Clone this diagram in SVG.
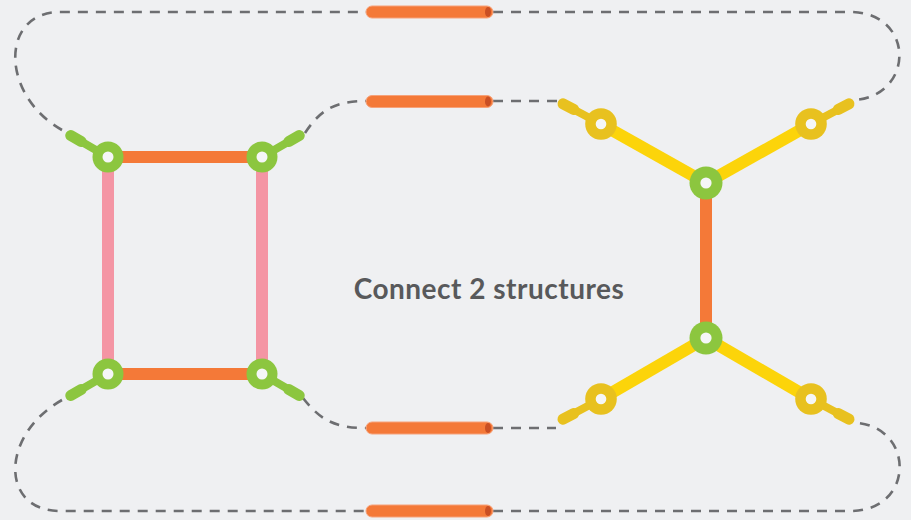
<svg xmlns="http://www.w3.org/2000/svg" xmlns:xlink="http://www.w3.org/1999/xlink" width="911" height="520" viewBox="0 0 911 520">
  <style>
    .dash { fill: none; stroke: #6d6e71; stroke-width: 2.6; stroke-dasharray: 10 8; }
    .orange { stroke: #f47938; stroke-width: 12; }
    .pink { stroke: #f495a4; stroke-width: 12; }
    .yellow { stroke: #fcd40a; stroke-width: 12; }
    .pipe { fill: #f47938; stroke: #f6a27a; stroke-width: 1; }
    .pipe-end { fill: #c94f24; }
    .green { fill: #8cc63f; }
    .gold { fill: #e8c11f; }
    .hole { fill: #f5f6f7; }
    .stub-green { stroke: #8cc63f; }
    .stub-gold { stroke: #e8c11f; }
    .label { font-family: Lato, "Open Sans", "Liberation Sans", sans-serif; font-weight: 700; font-size: 28px; letter-spacing: 0.5px; fill: #58595b; }
  </style>
  <defs>
    <g id="stub" fill="none" stroke-linecap="round">
      <line x1="0" y1="0" x2="32" y2="0" stroke-width="8"/>
      <line x1="31" y1="0" x2="43" y2="0" stroke-width="11"/>
    </g>
  </defs>
  <rect x="0" y="0" width="911" height="520" fill="#eff0f2"/>

  <g id="connectors">
    <path class="dash" d="M62,130 C0,95 0,12 60,12 H366"/>
    <path class="dash" d="M493,12 H850 C915,12 915,95 855,100"/>
    <path class="dash" d="M305,133 C320,110 335,101 366,101"/>
    <path class="dash" d="M493,101 H558"/>
    <path class="dash" d="M303,398 C320,420 335,428 366,428"/>
    <path class="dash" d="M493,428 H556"/>
    <path class="dash" d="M62,400 C0,435 0,511 60,511 H366"/>
    <path class="dash" d="M493,511 H850 C915,511 915,428 857,423"/>
    <line class="orange" x1="108" y1="157" x2="262" y2="157"/>
    <line class="orange" x1="108" y1="374" x2="262" y2="374"/>
    <line class="pink" x1="108" y1="157" x2="108" y2="374"/>
    <line class="pink" x1="262" y1="157" x2="262" y2="374"/>
    <line class="orange" x1="706" y1="183" x2="706" y2="338"/>
    <line class="yellow" x1="706" y1="183" x2="601" y2="124"/>
    <line class="yellow" x1="706" y1="183" x2="811" y2="124"/>
    <line class="yellow" x1="706" y1="338" x2="601" y2="399"/>
    <line class="yellow" x1="706" y1="338" x2="811" y2="399"/>
  </g>

  <g id="pipe-1"><rect class="pipe" x="366" y="6" width="127" height="12" rx="6"/><ellipse class="pipe-end" cx="488" cy="12" rx="3" ry="5"/></g>
  <g id="pipe-2"><rect class="pipe" x="366" y="95.5" width="127" height="12" rx="6"/><ellipse class="pipe-end" cx="488" cy="101.5" rx="3" ry="5"/></g>
  <g id="pipe-3"><rect class="pipe" x="366" y="422" width="127" height="12" rx="6"/><ellipse class="pipe-end" cx="488" cy="428" rx="3" ry="5"/></g>
  <g id="pipe-4"><rect class="pipe" x="366" y="505" width="127" height="12" rx="6"/><ellipse class="pipe-end" cx="488" cy="511" rx="3" ry="5"/></g>

  <g id="node-sq-tl"><use xlink:href="#stub" class="stub-green" transform="translate(108,157) rotate(-150)"/><circle class="green" cx="108" cy="157" r="15.5"/><circle class="hole" cx="108" cy="157" r="5.5"/></g>
  <g id="node-sq-tr"><use xlink:href="#stub" class="stub-green" transform="translate(262,157) rotate(-30)"/><circle class="green" cx="262" cy="157" r="15.5"/><circle class="hole" cx="262" cy="157" r="5.5"/></g>
  <g id="node-sq-bl"><use xlink:href="#stub" class="stub-green" transform="translate(108,374) rotate(150)"/><circle class="green" cx="108" cy="374" r="15.5"/><circle class="hole" cx="108" cy="374" r="5.5"/></g>
  <g id="node-sq-br"><use xlink:href="#stub" class="stub-green" transform="translate(262,374) rotate(30)"/><circle class="green" cx="262" cy="374" r="15.5"/><circle class="hole" cx="262" cy="374" r="5.5"/></g>

  <g id="node-h-top"><circle class="green" cx="706" cy="183" r="16.5"/><circle class="hole" cx="706" cy="183" r="5.6"/></g>
  <g id="node-h-bottom"><circle class="green" cx="706" cy="338" r="16.5"/><circle class="hole" cx="706" cy="338" r="5.6"/></g>
  <g id="node-h-tl"><use xlink:href="#stub" class="stub-gold" transform="translate(601,124) rotate(-152)"/><circle class="gold" cx="601" cy="124" r="15.8"/><circle class="hole" cx="601" cy="124" r="5.3"/></g>
  <g id="node-h-tr"><use xlink:href="#stub" class="stub-gold" transform="translate(811,124) rotate(-28)"/><circle class="gold" cx="811" cy="124" r="15.8"/><circle class="hole" cx="811" cy="124" r="5.3"/></g>
  <g id="node-h-bl"><use xlink:href="#stub" class="stub-gold" transform="translate(601,399) rotate(152)"/><circle class="gold" cx="601" cy="399" r="15.8"/><circle class="hole" cx="601" cy="399" r="5.3"/></g>
  <g id="node-h-br"><use xlink:href="#stub" class="stub-gold" transform="translate(811,399) rotate(28)"/><circle class="gold" cx="811" cy="399" r="15.8"/><circle class="hole" cx="811" cy="399" r="5.3"/></g>

  <g id="title"><text class="label" x="489" y="299" text-anchor="middle">Connect 2 structures</text></g>
</svg>
